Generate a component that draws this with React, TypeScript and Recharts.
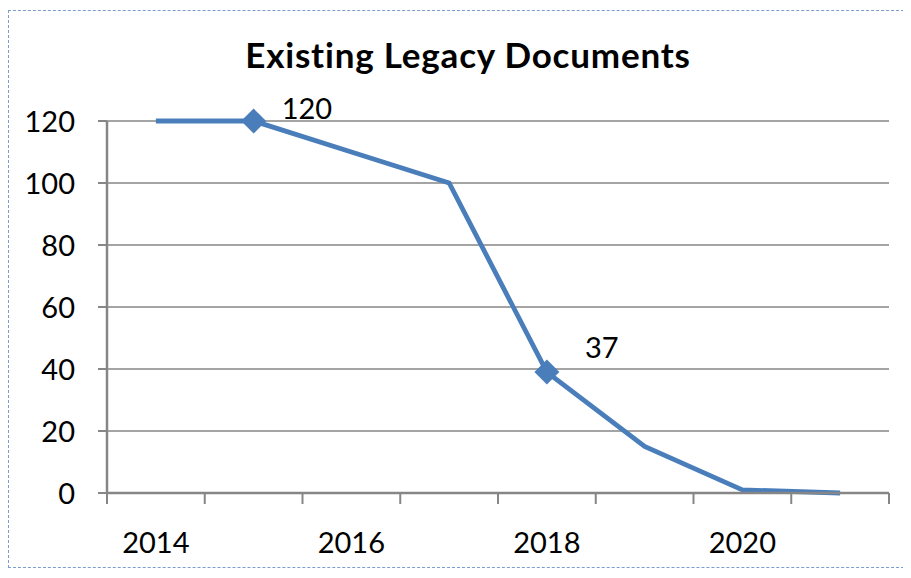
import React from 'react';
import {LineChart, Line, XAxis, YAxis, CartesianGrid} from 'recharts';

const years = [2014, 2015, 2016, 2017, 2018, 2019, 2020, 2021];
const documents = [120, 120, 110, 100, 39, 15, 1, 0];
const pointLabels = ['', '120', '', '', '37', '', '', ''];
const yTicks = [0, 20, 40, 60, 80, 100, 120];
const xLabelYears = [2014, 2016, 2018, 2020];

const data = years.map((year, i) => ({year, value: documents[i], label: pointLabels[i]}));

// tick marks sit between the years, labels on every other year
const xTicks: number[] = [];
for (let i = 0; i <= years.length; i++) {
    xTicks.push(years[0] - 0.5 + i);
    if (i < years.length) xTicks.push(years[i]);
}

const FONT = 'Lato, "Open Sans", sans-serif';
const AXIS = '#868686';
const BLUE = '#4a7ebb';

const YTick = (props: any) => {
    const {x, y, payload} = props;
    return (
        <g>
            <line x1={x - 9} x2={x} y1={y} y2={y} stroke={AXIS} strokeWidth={2}/>
            <text x={x - 32} y={y + 11} textAnchor="end" fontSize={29} fontFamily={FONT} fill="#000">
                {payload.value}
            </text>
        </g>
    );
};

const XTick = (props: any) => {
    const {x, y, payload} = props;
    const v = payload.value;
    if (v % 1 !== 0) {
        return <line x1={x} x2={x} y1={y} y2={y + 11} stroke={AXIS} strokeWidth={2}/>;
    }
    if (!xLabelYears.includes(v)) return <g/>;
    return (
        <text x={x} y={y + 60} textAnchor="middle" fontSize={29} fontFamily={FONT} fill="#000">
            {v}
        </text>
    );
};

const Diamond = (props: any) => {
    const {cx, cy, payload, index} = props;
    if (!payload.label) return <g key={`dot-${index}`}/>;
    const r = 12.5;
    return (
        <path key={`dot-${index}`} d={`M${cx},${cy - r} L${cx + r},${cy} L${cx},${cy + r} L${cx - r},${cy} Z`} fill={BLUE}/>
    );
};

const labelOffset: Record<number, [number, number]> = {1: [28, -2], 4: [38, -14]};

const PointLabel = (props: any) => {
    const {x, y, index} = props;
    const text = pointLabels[index];
    if (!text) return <g/>;
    const [dx, dy] = labelOffset[index] || [30, -8];
    return (
        <text x={x + dx} y={y + dy} fontSize={29} fontFamily={FONT} fill="#000">{text}</text>
    );
};

export default function App() {
    return (
        <div style={{position: 'relative', width: 899, height: 556, marginTop: 2, border: '1px dashed #7b9dd0', background: '#fff'}}>
            <svg width={899} height={80} style={{position: 'absolute', left: 0, top: 0}}>
                <text x={459} y={57} textAnchor="middle" fontSize={35} letterSpacing={0.8} fontWeight="bold" fontFamily={FONT} fill="#000">
                    Existing Legacy Documents
                </text>
            </svg>
            <LineChart width={899} height={556} data={data} margin={{top: 110, right: 19, bottom: 0, left: 0}}>
                <CartesianGrid vertical={false} stroke={AXIS} strokeWidth={1.5}/>
                <XAxis
                    dataKey="year"
                    type="number"
                    domain={[years[0] - 0.5, years[years.length - 1] + 0.5]}
                    ticks={xTicks}
                    interval={0}
                    height={74}
                    tickSize={0}
                    tickMargin={0}
                    tickLine={false}
                    tick={<XTick/>}
                    axisLine={{stroke: AXIS, strokeWidth: 2.5}}
                />
                <YAxis
                    domain={[0, 120]}
                    ticks={yTicks}
                    interval={0}
                    width={98}
                    tickSize={0}
                    tickMargin={0}
                    tickLine={false}
                    tick={<YTick/>}
                    axisLine={{stroke: AXIS, strokeWidth: 2.5}}
                />
                <Line
                    dataKey="value"
                    stroke={BLUE}
                    strokeWidth={4.8}
                    dot={Diamond}
                    activeDot={false}
                    label={<PointLabel/>}
                    isAnimationActive={false}
                />
            </LineChart>
        </div>
    );
}
